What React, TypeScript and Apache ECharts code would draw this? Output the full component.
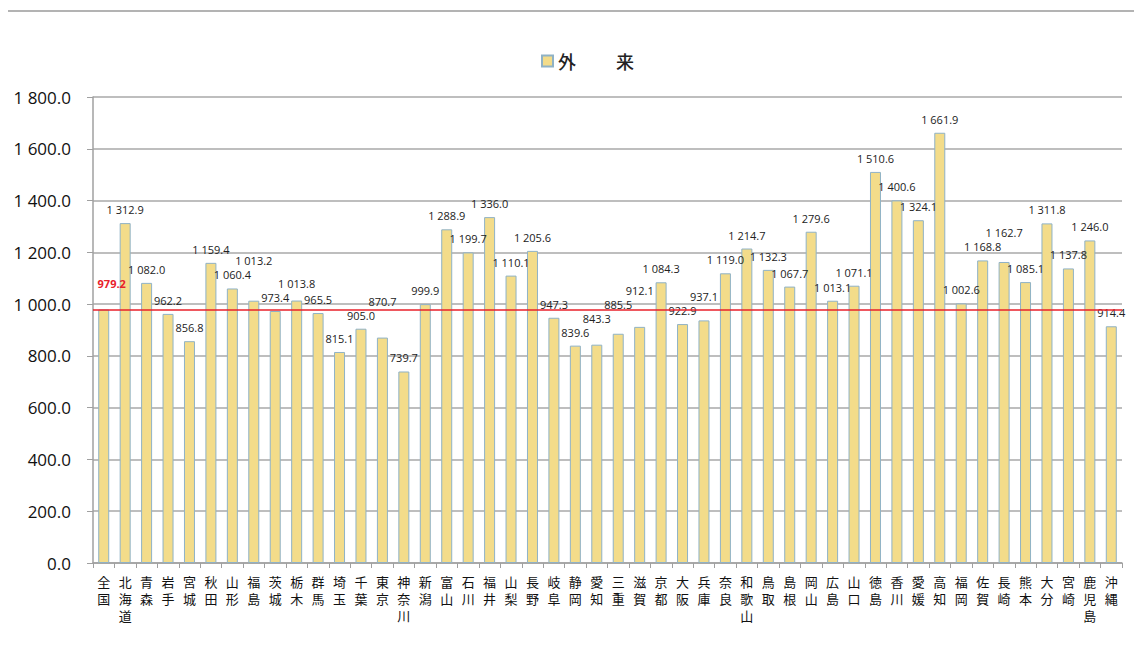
import React, { useEffect, useRef } from "react";
import * as echarts from "echarts";

const categories = [
  "全国", "北海道", "青森", "岩手", "宮城", "秋田", "山形", "福島", "茨城", "栃木", "群馬", "埼玉",
  "千葉", "東京", "神奈川", "新潟", "富山", "石川", "福井", "山梨", "長野", "岐阜", "静岡", "愛知",
  "三重", "滋賀", "京都", "大阪", "兵庫", "奈良", "和歌山", "鳥取", "島根", "岡山", "広島", "山口",
  "徳島", "香川", "愛媛", "高知", "福岡", "佐賀", "長崎", "熊本", "大分", "宮崎", "鹿児島", "沖縄",
];

const outpatient = [
  979.2, 1312.9, 1082.0, 962.2, 856.8, 1159.4, 1060.4, 1013.2, 973.4, 1013.8, 965.5, 815.1,
  905.0, 870.7, 739.7, 999.9, 1288.9, 1199.7, 1336.0, 1110.1, 1205.6, 947.3, 839.6, 843.3,
  885.5, 912.1, 1084.3, 922.9, 937.1, 1119.0, 1214.7, 1132.3, 1067.7, 1279.6, 1013.1, 1071.1,
  1510.6, 1400.6, 1324.1, 1661.9, 1002.6, 1168.8, 1162.7, 1085.1, 1311.8, 1137.8, 1246.0, 914.4,
];

const seriesName = "外　　 来";
const nationalAverage = 979.2;
const yMin = 0;
const yMax = 1800;
const yInterval = 200;

function fmt(v: number): string {
  const s = v.toFixed(1);
  const [intPart, dec] = s.split(".");
  const withSep = intPart.replace(/\B(?=(\d{3})+(?!\d))/g, " ");
  return withSep + "." + dec;
}

export default function App() {
  const ref = useRef<HTMLDivElement>(null);
  useEffect(() => {
    if (!ref.current) return;
    const chart = echarts.init(ref.current, undefined, { renderer: "svg" });
    const numFont = "'Open Sans', 'Noto Sans', sans-serif";
    const cjkFont = "'Noto Sans CJK JP', sans-serif";

    // label distances: lift a label when it would collide with its left neighbour
    const plotH = 655 - 97 - 92;
    const k = plotH / (yMax - yMin);
    const labelH = 14;
    const baseDist = 8;
    const dists: number[] = outpatient.map(() => baseDist);
    for (let i = 2; i < outpatient.length; i++) {
      const prevTop = outpatient[i - 1] * k + dists[i - 1];
      const curTop = outpatient[i] * k + dists[i];
      if (Math.abs(curTop - prevTop) < labelH) {
        dists[i] = prevTop + labelH - outpatient[i] * k;
      }
    }

    chart.setOption({
      animation: false,
      backgroundColor: "#ffffff",
      legend: {
        top: 47,
        left: 536,
        itemWidth: 11,
        itemHeight: 11,
        itemGap: 7,
        textStyle: { fontFamily: cjkFont, fontSize: 18, color: "#222", fontWeight: 500 },
        data: [{ name: seriesName, icon: "rect" }],
      },
      graphic: [
        { type: "line", shape: { x1: 7, y1: 11, x2: 1142, y2: 11 }, style: { stroke: "#9a9a9a", lineWidth: 1.5 } },
        { type: "line", shape: { x1: 7, y1: 11, x2: 7, y2: 655 }, style: { stroke: "#9a9a9a", lineWidth: 1.5 } },
      ],
      grid: { left: 93, right: 20, top: 97, bottom: 92, containLabel: false },
      xAxis: {
        type: "category",
        data: categories,
        axisLine: { lineStyle: { color: "#a0a0a0", width: 1.5 } },
        axisTick: { show: true, alignWithLabel: false, length: 5, lineStyle: { color: "#a0a0a0" } },
        axisLabel: {
          interval: 0,
          margin: 10,
          fontFamily: cjkFont,
          fontSize: 13,
          lineHeight: 17,
          color: "#111",
          verticalAlign: "top",
          formatter: (v: string) => v.split("").join("\n"),
        },
      },
      yAxis: {
        type: "value",
        min: yMin,
        max: yMax,
        interval: yInterval,
        axisLine: { show: true, lineStyle: { color: "#a0a0a0", width: 1.5 } },
        axisTick: { show: true, length: 6, lineStyle: { color: "#a0a0a0" } },
        splitLine: { lineStyle: { color: "#a8a8a8", width: 1.5 } },
        axisLabel: {
          fontFamily: numFont,
          fontSize: 17,
          color: "#111",
          margin: 22,
          formatter: (v: number) => fmt(v),
        },
      },
      series: [
        {
          name: seriesName,
          type: "bar",
          barWidth: 11,
          data: outpatient.map((v, i) =>
            i === 0
              ? { value: v, label: { color: "#e8202a", fontWeight: "bold", fontSize: 11, distance: 20, offset: [8, 0] } }
              : { value: v, label: { distance: dists[i] } }
          ),
          itemStyle: { color: "#f3dc8a", borderColor: "#8fb2c6", borderWidth: 1 },
          label: {
            show: true,
            position: "top",
            distance: baseDist,
            fontFamily: numFont,
            fontSize: 11,
            color: "#222",
            formatter: (p: any) => fmt(p.value),
          },
          markLine: {
            silent: true,
            symbol: "none",
            label: { show: false },
            lineStyle: { color: "#e8202a", width: 1.5, type: "solid" },
            data: [{ yAxis: nationalAverage }],
          },
        },
      ],
    });
    return () => chart.dispose();
  }, []);
  return <div ref={ref} style={{ width: 1142, height: 655, margin: -8 }} />;
}
